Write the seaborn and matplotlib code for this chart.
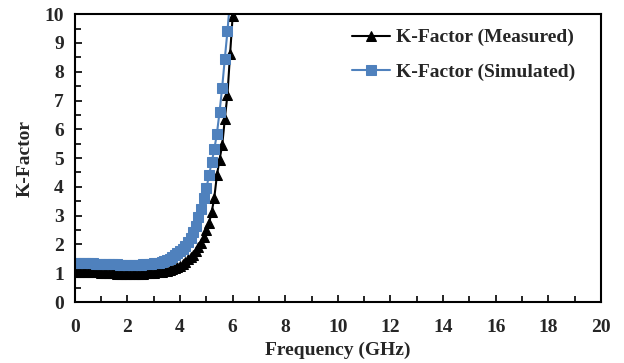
import pandas as pd
import matplotlib.pyplot as plt
import matplotlib.ticker as mticker
import seaborn as sns

sns.set_style('ticks')
plt.rcParams['font.family'] = ['Liberation Serif', 'DejaVu Serif']
plt.rcParams['font.weight'] = 'bold'

# 测量数据 (GHz, K-Factor)
freq_meas = [0.0, 0.1, 0.2, 0.3, 0.4, 0.5, 0.6, 0.7, 0.8, 0.9,
             1.0, 1.1, 1.2, 1.3, 1.4, 1.5, 1.6, 1.7, 1.8, 1.9,
             2.0, 2.1, 2.2, 2.3, 2.4, 2.5, 2.6, 2.7, 2.8, 2.9,
             3.0, 3.1, 3.2, 3.3, 3.4, 3.5, 3.6, 3.7, 3.8, 3.9,
             4.0, 4.1, 4.2, 4.3, 4.4, 4.5, 4.6, 4.7, 4.8, 4.9,
             5.0, 5.1, 5.2, 5.3, 5.4, 5.5, 5.6, 5.7, 5.8, 5.9,
             6.0, 6.1]
k_meas = [1.05, 1.06, 1.06, 1.05, 1.05, 1.04, 1.04, 1.03, 1.03, 1.03,
          1.02, 1.02, 1.01, 1.01, 1.00, 1.00, 0.99, 0.99, 0.99, 0.98,
          0.98, 0.98, 0.98, 0.98, 0.98, 0.99, 0.99, 1.00, 1.00, 1.01,
          1.02, 1.03, 1.04, 1.05, 1.07, 1.09, 1.12, 1.15, 1.19, 1.22,
          1.26, 1.32, 1.40, 1.48, 1.56, 1.65, 1.76, 1.90, 2.06, 2.27,
          2.50, 2.74, 3.12, 3.62, 4.40, 4.95, 5.44, 6.35, 7.20, 8.60,
          9.95, 11.2]

# 仿真数据
freq_sim = [0.0, 0.1, 0.2, 0.3, 0.4, 0.5, 0.6, 0.7, 0.8, 0.9,
            1.0, 1.1, 1.2, 1.3, 1.4, 1.5, 1.6, 1.7, 1.8, 1.9,
            2.0, 2.1, 2.2, 2.3, 2.4, 2.5, 2.6, 2.7, 2.8, 2.9,
            3.0, 3.1, 3.2, 3.3, 3.4, 3.5, 3.6, 3.7, 3.8, 3.9,
            4.0, 4.1, 4.2, 4.3, 4.4, 4.5, 4.6, 4.7, 4.8, 4.9,
            5.0, 5.1, 5.2, 5.3, 5.4, 5.5, 5.6, 5.7, 5.8, 5.9]
k_sim = [1.36, 1.36, 1.35, 1.35, 1.35, 1.34, 1.34, 1.34, 1.33, 1.33,
         1.33, 1.32, 1.32, 1.32, 1.31, 1.31, 1.31, 1.30, 1.30, 1.30,
         1.30, 1.30, 1.30, 1.30, 1.30, 1.30, 1.31, 1.31, 1.32, 1.33,
         1.34, 1.35, 1.37, 1.39, 1.42, 1.46, 1.51, 1.57, 1.63, 1.70,
         1.76, 1.84, 1.96, 2.08, 2.23, 2.42, 2.65, 2.95, 3.23, 3.63,
         3.95, 4.40, 4.85, 5.30, 5.85, 6.60, 7.45, 8.45, 9.40, 10.5]

df_meas = pd.DataFrame({'Frequency': freq_meas, 'K': k_meas})
df_sim = pd.DataFrame({'Frequency': freq_sim, 'K': k_sim})

fig, ax = plt.subplots(figsize=(6.24, 3.63), dpi=100)
fig.subplots_adjust(left=0.120, right=0.963, bottom=0.168, top=0.961)

sns.lineplot(data=df_meas, x='Frequency', y='K', ax=ax, color='black',
             marker='^', markersize=7, markeredgecolor='black',
             linewidth=1.5, label='K-Factor (Measured)')
sns.lineplot(data=df_sim, x='Frequency', y='K', ax=ax, color='#4F81BD',
             marker='s', markersize=7, markeredgecolor='#4F81BD',
             linewidth=1.5, label='K-Factor (Simulated)')

ax.set_xlim(0, 20)
ax.set_ylim(0, 10)
ax.xaxis.set_major_locator(mticker.MultipleLocator(2))
ax.xaxis.set_minor_locator(mticker.MultipleLocator(1))
ax.yaxis.set_major_locator(mticker.MultipleLocator(1))
ax.yaxis.set_minor_locator(mticker.MultipleLocator(0.5))
ax.tick_params(which='both', direction='in', top=False, right=False,
               labelsize=14, width=1.2, color='black')
ax.tick_params(which='major', length=5)
ax.tick_params(which='minor', length=4)
ax.tick_params(axis='x', which='both', pad=12)
ax.tick_params(axis='y', which='both', pad=8)
for s in ax.spines.values():
    s.set_linewidth(1.5)
    s.set_color('black')

ax.set_xlabel('Frequency (GHz)', fontsize=14, fontweight='bold', labelpad=4)
ax.set_ylabel('K-Factor', fontsize=14, fontweight='bold', labelpad=8)

ax.legend(loc='upper right', bbox_to_anchor=(0.985, 1.01), frameon=False,
          fontsize=14, handlelength=2.0, handletextpad=0.3, labelspacing=0.85)

plt.savefig('out.png', dpi=100)
